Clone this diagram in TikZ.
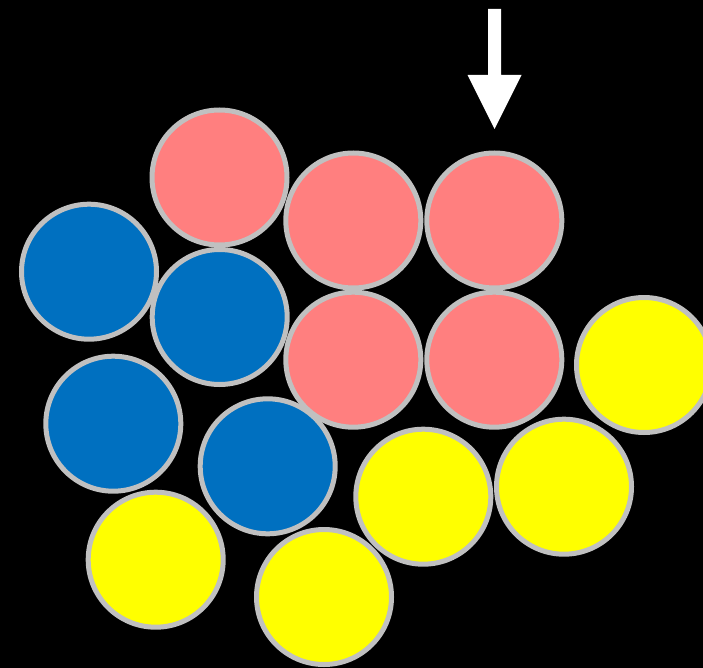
\documentclass[tikz,border=0pt]{standalone}
\definecolor{ballred}{HTML}{FF7F7F}
\definecolor{ballblue}{HTML}{0070C0}
\definecolor{ballyellow}{HTML}{FFFF00}
\definecolor{rimgray}{HTML}{C0C0C0}
\tikzset{
  ball/.style={circle, draw=rimgray, line width=5pt, minimum size=135pt, inner sep=0pt, outer sep=0pt},
  redball/.style={ball, fill=ballred},
  blueball/.style={ball, fill=ballblue},
  yellowball/.style={ball, fill=ballyellow},
}
\begin{document}
\begin{tikzpicture}[x=1pt,y=-1pt]
\useasboundingbox (0,0) rectangle (703,668);
\fill[black] (0,0) rectangle (703,668);
\clip (0,0) rectangle (703,668);
% red
\node[redball] (r1) at (219.5,177.5) {};
\node[redball] (r2) at (353.3,220.5) {};
\node[redball] (r3) at (494.3,220.5) {};
\node[redball] (r4) at (353.3,359.7) {};
\node[redball] (r5) at (494.3,359.7) {};
% blue
\node[blueball] (b1) at (89,271.7) {};
\node[blueball] (b2) at (219.7,317) {};
\node[blueball] (b3) at (113.3,423.7) {};
\node[blueball] (b4) at (267.7,466.3) {};
% yellow
\node[yellowball] (y1) at (644,365) {};
\node[yellowball] (y2) at (423.3,496.7) {};
\node[yellowball] (y3) at (564,486.7) {};
\node[yellowball] (y4) at (155.7,559.7) {};
\node[yellowball] (y5) at (324,597) {};
% arrow
\fill[white] (488,9) -- (501,9) -- (501,75) -- (521.5,75) -- (494.5,129) -- (467.5,75) -- (488,75) -- cycle;
\end{tikzpicture}
\end{document}
